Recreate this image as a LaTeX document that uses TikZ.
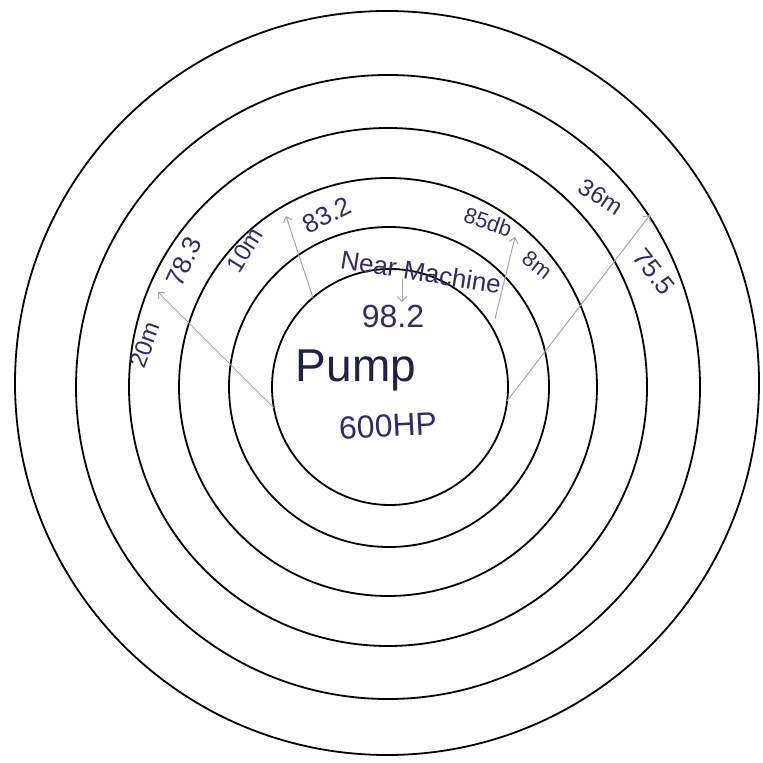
\documentclass[tikz,border=0pt]{standalone}
\usepackage{fontspec}
\setmainfont{Liberation Sans}
\usetikzlibrary{arrows.meta}
\definecolor{inkblue}{RGB}{45,45,105}
\definecolor{pencil}{RGB}{165,165,165}
\tikzset{
  every node/.style={align=center},
  ring/.style={line width=0.9pt},
  ink/.style={text=inkblue, inner sep=1pt, font=\fontsize{12}{14}\selectfont},
  biglabel/.style={ink, font=\fontsize{16}{18}\selectfont},
  guide/.style={draw=pencil, line width=0.5pt},
  pointer/.style={guide, -{Straight Barb[length=2.5pt,width=4.5pt]}}
}

\begin{document}
\begin{tikzpicture}[x=0.5pt, y=-0.5pt]
\useasboundingbox (0,0) rectangle (763,763);

% rings round the pump
\draw[ring] (387,383) circle[radius=372];
\draw[ring] (388,387) circle[radius=312];
\draw[ring] (388,387) circle[radius=259];
\draw[ring] (388,387) circle[radius=209];
\draw[ring] (389,387) circle[radius=160];
\draw[ring] (390,387) circle[radius=118];

% ends of the guide lines
\coordinate (foot20)   at (274,408);
\coordinate (foot10)   at (313,298);
\coordinate (foot8)    at (495,319);
\coordinate (foot36)   at (507,401);
\coordinate (footnear) at (402,279);
\coordinate (tip20) at (158,292);
\coordinate (tip10) at (286,216);
\coordinate (tip8)  at (515,237);
\coordinate (tip36) at (650,215);

% the machine
\node[ink, text=inkblue!70!black, font=\fontsize{23}{26}\selectfont] (pump) at (356,370) {Pump};
\node[biglabel, rotate=3] (hp) at (388,426) {600HP};
\node[biglabel] (val98) at (393,316) {98.2};
\node[ink, rotate=-9, font=\fontsize{13}{15}\selectfont] (near) at (421,272) {Near Machine};

% readings on the left
\node[ink, rotate=70] (d20) at (145,345) {20m};
\node[ink, rotate=65, font=\fontsize{13}{15}\selectfont] (l78) at (184,262) {78.3};
\node[ink, rotate=58] (d10) at (245,250) {10m};
\node[ink, rotate=27, font=\fontsize{13}{15}\selectfont] (l83) at (327,215) {83.2};

% readings on the right
\node[ink, rotate=-19, font=\fontsize{11}{13}\selectfont] (l85) at (488,222) {85db};
\node[ink, rotate=-37, font=\fontsize{11}{13}\selectfont] (d8) at (537,265) {8m};
\node[ink, rotate=-33] (d36) at (601,197) {36m};
\node[ink, rotate=-52, font=\fontsize{13}{15}\selectfont] (l75) at (654,272) {75.5};

% guide lines
\draw[pointer] (foot20) -- (tip20);
\draw[pointer] (foot10) -- (tip10);
\draw[pointer] (foot8)  -- (tip8);
\draw[pointer] (foot36) -- (tip36);
\draw[pointer] (footnear) -- (footnear |- val98.north);

\end{tikzpicture}
\end{document}
